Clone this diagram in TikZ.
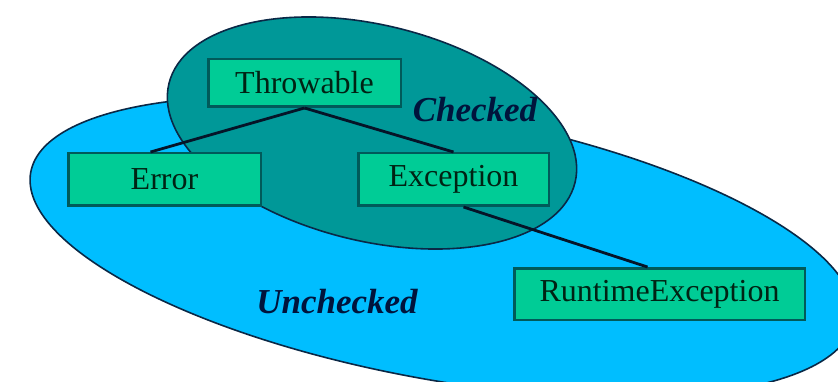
\documentclass[tikz,border=0pt]{standalone}
\usepackage{fontspec}
\setmainfont{Liberation Serif}
\definecolor{uncheckfill}{RGB}{0,190,255}
\definecolor{checkfill}{RGB}{0,152,152}
\definecolor{boxfill}{RGB}{0,204,150}
\definecolor{boxborder}{RGB}{0,90,90}
\definecolor{edgecol}{RGB}{10,40,70}
\definecolor{conncol}{RGB}{5,20,40}
\definecolor{labcol}{RGB}{0,20,60}
\definecolor{boxtext}{RGB}{0,35,20}
\tikzset{
  region/.style={draw=edgecol, line width=1.6pt},
  classbox/.style={draw=boxborder, line width=2.5pt, fill=boxfill, rectangle,
    inner sep=0pt, font=\fontsize{32}{36}\selectfont, text=boxtext},
  conn/.style={draw=conncol, line width=2.8pt},
  setlabel/.style={font=\fontsize{35}{40}\selectfont\bfseries\itshape, text=labcol, inner sep=0pt}
}
\begin{document}
\begin{tikzpicture}[x=1pt,y=-1pt]
\useasboundingbox (0,0) rectangle (838,382);
\clip (0,0) rectangle (838,382);
% Unchecked region
\path[region, fill=uncheckfill, rotate around={-10.3:(442,247)}]
  (442,247) ellipse [x radius=418pt, y radius=133pt];
% Checked region
\path[region, fill=checkfill, rotate around={-13.7:(372,133)}]
  (372,133) ellipse [x radius=209pt, y radius=108pt];
% labels
\node[setlabel] (chk) at (475,110) {Checked};
\node[setlabel] (unchk) at (337,302) {Unchecked};
% class boxes
\node[classbox, minimum width=192.5pt, minimum height=47.5pt] (thr) at (304.5,83) {Throwable};
\node[classbox, minimum width=192.5pt, minimum height=52.5pt] (err) at (164.5,179.5) {Error};
\node[classbox, minimum width=190.5pt, minimum height=52.5pt] (exc) at (453.5,179.5) {Exception};
\node[classbox, minimum width=290.5pt, minimum height=51.5pt] (rt) at (659.5,294) {RuntimeException};
% connectors
\draw[conn] (thr.south) -- ([xshift=-14pt]err.north);
\draw[conn] (thr.south) -- (exc.north);
\draw[conn] ([xshift=10pt]exc.south) -- ([xshift=-12pt]rt.north);
\end{tikzpicture}
\end{document}
